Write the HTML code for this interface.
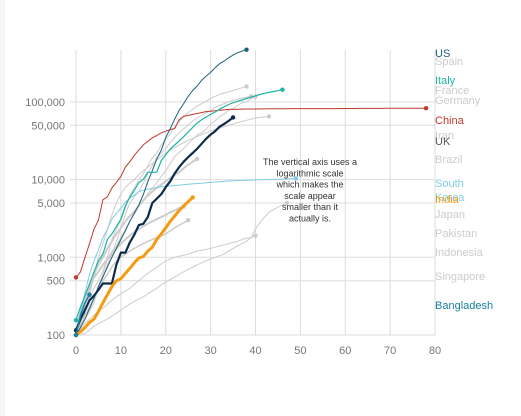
<!DOCTYPE html>
<html><head><meta charset="utf-8"><style>
body{margin:0;background:#fff;font-family:"Liberation Sans",sans-serif}
#wrap{position:relative;width:521px;height:416px;overflow:hidden;background:#fff}
#strip{position:absolute;left:0;top:0;width:5px;height:416px;background:#f6f6f6}
</style></head><body>
<div id="wrap">
<div id="strip"></div>
<svg id="chart" width="521" height="416" style="position:absolute;left:0;top:0"></svg>
</div>
<script>
const xTicks=[0,10,20,30,40,50,60,70,80];
const yTicks=[100,500,1000,5000,10000,50000,100000];
const yTickLabels=["100","500","1,000","5,000","10,000","50,000","100,000"];
const names=["Singapore","Indonesia","Japan","Pakistan","Brazil","Iran","Germany","France","Spain","South Korea","China","US","Italy","UK","India","Bangladesh"];
const colors=["#ccc","#ccc","#ccc","#ccc","#ccc","#ccc","#ccc","#ccc","#ccc","#7ecde6","#c0392b","#1f5f7a","#1fb3a3","#0d2c4a","#f39c12","#1a7fa0"];
const widths=[1,1,1.5,2,2,1,1,1,1,1,1,1,1.2,2.2,3,1.5];
const dSingapore=[100,100,105,115,130,140,150,160,175,190,210,230,250,270,290,310,340,370,400,440,480,520,560,600,650,700,750,800,850,900,950,1000,1050,1100,1200,1300,1400,1500,1600,1800,2300,2800,3300,3800,4100,4400,4700,5000];
const dIndonesia=[100,120,140,160,180,200,220,250,280,310,340,370,400,450,500,560,620,680,750,820,900,950,1000,1030,1060,1100,1150,1200,1230,1260,1300,1350,1400,1450,1500,1550,1600,1700,1750,1800,1900];
const dJapan=[100,130,180,230,300,400,500,600,750,900,1000,1100,1200,1300,1400,1500,1600,1700,1800,1900,2000,2200,2400,2600,2800,3000];
const dPakistan=[100,200,300,450,550,650,800,950,1100,1300,1500,1700,1900,2100,2300,2500,2700,2900,3100,3300,3500,3800,4000,4300,4500];
const dBrazil=[100,150,250,350,600,800,1000,1300,1600,2000,2400,2900,3400,3900,4600,5400,6200,7000,7900,8600,9500,10500,11500,12500,14000,15500,17000,18500];
const dIran=[100,140,250,400,600,1000,1500,2300,3500,5000,6500,8000,9000,10000,11500,13000,14500,16000,18000,20000,22000,24000,26000,28000,30000,32000,34000,36000,38000,40000,42000,44000,46000,48000,50000,52000,54000,56000,58000,60000,62000,63000,64000,65000];
const dGermany=[100,130,160,200,260,400,550,800,1100,1600,2400,3600,5000,6000,7000,9000,12000,15000,19000,22000,25000,30000,35000,40000,45000,50000,57000,62000,67000,72000,77000,85000,90000,95000,100000,105000,108000,112000,115000,118000];
const dFrance=[100,130,190,210,290,420,610,950,1200,1400,1800,2300,2900,3600,4500,5400,6600,7700,9100,11000,13000,16000,19800,22300,25200,29000,33000,37500,40000,44500,52000,57000,65000,70000,78000,82000,90000,97000,100000,110000,117000];
const dSpain=[100,150,200,300,400,500,670,1000,1700,2300,3000,4300,6300,7800,9900,12000,15000,19000,22000,28000,33000,39000,48000,56000,65000,73000,80000,88000,95000,102000,110000,118000,125000,130000,135000,140000,146000,152000,158000];
const dKorea=[100,200,350,600,900,1250,1800,2300,3100,3700,4300,5100,5800,6300,7000,7300,7500,7700,7900,8100,8200,8300,8400,8500,8600,8700,8800,8900,9000,9100,9200,9300,9400,9500,9600,9650,9700,9750,9800,9850,9900,9950,10000,10000,10050,10100,10150,10200,10250,10300];
const dChina=[550,650,1000,1500,2300,3000,5500,6000,7800,9200,11000,14500,17000,20500,24000,28000,31000,34500,37000,40000,42000,44000,45500,59000,65000,67000,69000,71000,73000,75000,76000,77000,78000,79000,80000,80000,80500,80800,81000,81000,81100,81200,81300,81400,81500,81600,81700,81800,81900,82000,82000,82000,82000,82000,82000,82000,82000,82100,82100,82200,82200,82300,82300,82400,82400,82500,82500,82600,82600,82700,82700,82800,82800,82900,82900,83000,83000,83000,83100];
const dUS=[100,125,160,220,300,420,560,750,1000,1300,1700,2200,2900,3700,4700,6400,9400,13000,18500,24000,35000,45000,60000,78000,95000,118000,140000,160000,190000,215000,240000,275000,310000,335000,370000,400000,430000,450000,470000];
const dItaly=[155,230,320,450,650,900,1100,1700,2000,2500,3100,4600,5900,7300,9100,10100,12400,12400,12500,17600,21000,24700,27900,31500,35700,41000,47000,53500,59000,63900,69000,74000,80500,86500,92500,97700,101700,105800,110500,115000,119800,124600,128900,132500,136000,139400,143600];
const dUK=[115,160,210,280,320,380,460,460,460,800,1150,1150,1550,1950,2600,2700,3300,5000,5700,6500,8000,9500,12000,14500,17000,19500,22000,25000,29000,33500,38000,42000,48000,52000,57000,63000];
const dIndia=[100,110,125,145,160,200,260,330,420,500,530,620,720,850,980,1020,1200,1350,1700,2000,2400,2900,3400,4000,4600,5200,5900];
const dBangladesh=[100,180,260,330];
const allData=[dSingapore,dIndonesia,dJapan,dPakistan,dBrazil,dIran,dGermany,dFrance,dSpain,dKorea,dChina,dUS,dItaly,dUK,dIndia,dBangladesh];
const labelNames=["US","Spain","Italy","France","Germany","China","Iran","UK","Brazil","South","Korea","India","Japan","Pakistan","Indonesia","Singapore","Bangladesh"];
const labelColors=["#1f5f7a","#ccc","#1fb3a3","#ccc","#ccc","#c0392b","#ccc","#555","#ccc","#7ecde6","#7ecde6","#f39c12","#ccc","#ccc","#ccc","#ccc","#1a7fa0"];
const labelY=[57,65,84,94,104,124,139,145,163,187,201,203,218,237,256,280,309];

const NS="http://www.w3.org/2000/svg";
const svg=document.getElementById('chart');
const x=d=>76+d*(435-76)/80;
const y=v=>335-(Math.log10(v)-2)*77.7;
function mk(t,a){const e=document.createElementNS(NS,t);for(const k in a)e.setAttribute(k,a[k]);svg.appendChild(e);return e;}

xTicks.forEach(t=>{
 const l=mk('line',{x1:x(t),x2:x(t),y1:50,y2:335,stroke:'#ddd','stroke-width':1});
 
 
 const tx=mk('text',{x:x(t),y:354,'text-anchor':'middle','font-size':11,fill:'#777'});
 tx.textContent=t;
 
 
});
yTicks.forEach((t,i)=>{
 const l=mk('line',{x1:70,x2:435,y1:y(t),y2:y(t),stroke:'#ddd','stroke-width':1});
 
 
 const tx=mk('text',{x:65,y:y(t)+4,'text-anchor':'end','font-size':11,fill:'#777'});
 tx.textContent=yTickLabels[i];
 
 
});
allData.forEach((arr,si)=>{
 const pts=arr.map((v,i)=>x(i).toFixed(1)+','+y(v).toFixed(1)).join(' ');
 const p=mk('polyline',{points:pts,fill:'none',stroke:colors[si],'stroke-width':widths[si],'stroke-linejoin':'round'});
 
 
 const n=arr.length-1;
 const c=mk('circle',{cx:x(n),cy:y(arr[n]),r:2.2,fill:colors[si]});
 
 
 const c0=mk('circle',{cx:x(0),cy:y(arr[0]),r:2.2,fill:colors[si]});
 
 
});
labelNames.forEach((n,i)=>{
 const t=mk('text',{x:435,y:labelY[i],'font-size':11,fill:labelColors[i]});
 t.textContent=n;
 
 
});
const note=["The vertical axis uses a","logarithmic scale","which makes the","scale appear","smaller than it","actually is."];
note.forEach((s,i)=>{
 const t=mk('text',{x:310,y:165+i*11.3,'text-anchor':'middle','font-size':9,fill:'#333'});
 t.textContent=s;
 
 
});
</script>
</body></html>
